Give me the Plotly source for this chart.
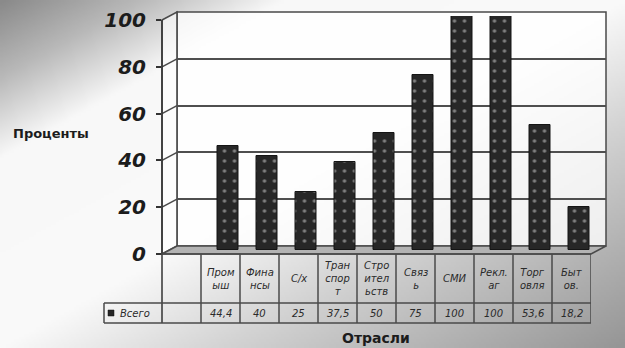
import base64
import struct
import zlib

import numpy as np
import plotly.graph_objects as go

# ---- data -------------------------------------------------------------
categories = ["Пром<br>ыш", "Фина<br>нсы", "С/х", "Тран<br>спор<br>т",
              "Стро<br>ител<br>ьств", "Связ<br>ь", "СМИ", "Рекл.<br>аг",
              "Торг<br>овля", "Быт<br>ов."]
values = [44.4, 40, 25, 37.5, 50, 75, 100, 100, 53.6, 18.2]
series_name = "Всего"
y_ticks = [0, 20, 40, 60, 80, 100]
y_title = "Проценты"
x_title = "Отрасли"

# ---- geometry (pixels) -------------------------------------------------
W, H = 625, 348
FRONT_X0, FRONT_X1 = 162, 591           # front axis / data table columns
DX, DY = 15, 8                          # depth offset of the back wall
L, R, T, B = 104, FRONT_X1 + DX, 12, 323  # plot area edges
HEAD_Y0, HEAD_Y1, ROW_Y1 = 254, 303, 323
FRONT_TOP = 20


def px(x):
    return (x - L) / (R - L)


def py(y):
    return (B - y) / (B - T)


def path(points):
    return "M " + " L ".join(f"{px(x):.5f},{py(y):.5f}" for x, y in points) + " Z"


n_cols = len(categories) + 1            # first table column is empty
col_range = [-0.5, n_cols - 0.5]

# ---- soft diagonal background -----------------------------------------
gw, gh = 250, 140
gx, gy = np.meshgrid(np.linspace(0, 1, gw), np.linspace(0, 1, gh))
s = gx + gy
gray = np.interp(s, [0.0, 0.22, 0.45, 1.0, 1.35, 2.0], [138, 185, 248, 250, 212, 150])
img = gray.clip(0, 255).astype(np.uint8)


def png_bytes(a):
    h, w = a.shape
    raw = b"".join(b"\x00" + a[i].tobytes() for i in range(h))

    def chunk(tag, data):
        c = struct.pack(">I", len(data)) + tag + data
        return c + struct.pack(">I", zlib.crc32(tag + data) & 0xFFFFFFFF)

    return (b"\x89PNG\r\n\x1a\n"
            + chunk(b"IHDR", struct.pack(">IIBBBBB", w, h, 8, 0, 0, 0, 0))
            + chunk(b"IDAT", zlib.compress(raw, 9))
            + chunk(b"IEND", b""))


bg_src = "data:image/png;base64," + base64.b64encode(png_bytes(img)).decode()

fig = go.Figure()

# back wall subplot (gridlines only)
fig.add_trace(go.Scatter(x=[None], y=[None], xaxis="x", yaxis="y", hoverinfo="skip"))
# bars, half-way in depth
fig.add_trace(go.Bar(
    x=list(range(1, n_cols)), y=values, xaxis="x2", yaxis="y2",
    width=0.56, name=series_name,
    marker=dict(color="#272727", line=dict(color="#151515", width=1),
                pattern=dict(shape=".", fgcolor="#d8d8d8", size=10,
                             solidity=0.1, fillmode="overlay")),
    hoverinfo="skip",
))
# front axis subplot (tick labels + data table)
fig.add_trace(go.Scatter(x=[None], y=[None], xaxis="x3", yaxis="y3", hoverinfo="skip"))

hidden_x = dict(range=col_range, showgrid=False, zeroline=False, automargin=False,
                showticklabels=False, ticks="", fixedrange=True)

fig.update_layout(
    width=W, height=H,
    margin=dict(l=L, r=W - R, t=T, b=H - B, pad=0, autoexpand=False),
    paper_bgcolor="white", plot_bgcolor="rgba(0,0,0,0)",
    showlegend=False,
    bargap=0,
    xaxis=dict(domain=[px(FRONT_X0 + DX), px(FRONT_X1 + DX)], anchor="y", **hidden_x),
    yaxis=dict(domain=[py(HEAD_Y0 - DY), py(FRONT_TOP - DY)], anchor="x",
               range=[0, 100], tickvals=y_ticks, showgrid=True, automargin=False,
               gridcolor="#4f4f4f", gridwidth=1.5, zeroline=False,
               showticklabels=False, ticks=""),
    xaxis2=dict(domain=[px(FRONT_X0 + DX / 2), px(FRONT_X1 + DX / 2)], anchor="y2", **hidden_x),
    yaxis2=dict(domain=[py(HEAD_Y0 - DY / 2), py(FRONT_TOP - DY / 2)], anchor="x2",
                range=[0, 100], showgrid=False, zeroline=False, automargin=False,
                showticklabels=False, ticks=""),
    xaxis3=dict(domain=[px(FRONT_X0), px(FRONT_X1)], anchor="y3", **hidden_x),
    yaxis3=dict(domain=[py(HEAD_Y0), py(FRONT_TOP)], anchor="x3", automargin=False,
                range=[0, 100], tickvals=y_ticks, showgrid=False, zeroline=False,
                ticks="outside", ticklen=5, tickcolor="#333", tickwidth=1.5,
                ticklabelstandoff=6,
                tickfont=dict(family="DejaVu Sans", size=20, color="#1c1c1c",
                              weight="bold", style="italic")),
    images=[dict(source=bg_src, xref="paper", yref="paper",
                 x=px(0), y=py(0), sizex=W / (R - L), sizey=H / (B - T),
                 xanchor="left", yanchor="top", sizing="stretch", layer="below")],
)

shapes = []
line_c = "#4a4a4a"
# walls and floor
shapes.append(dict(type="path", xref="paper", yref="paper", layer="below",
                   path=path([(FRONT_X0 + DX, T), (R, T), (R, HEAD_Y0 - DY), (FRONT_X0 + DX, HEAD_Y0 - DY)]),
                   fillcolor="rgba(255,255,255,0.78)", line=dict(color=line_c, width=1.5)))
shapes.append(dict(type="path", xref="paper", yref="paper", layer="below",
                   path=path([(FRONT_X0, FRONT_TOP), (FRONT_X0 + DX, T),
                              (FRONT_X0 + DX, HEAD_Y0 - DY), (FRONT_X0, HEAD_Y0)]),
                   fillcolor="rgba(255,255,255,0.6)", line=dict(color=line_c, width=1.5)))
shapes.append(dict(type="path", xref="paper", yref="paper", layer="below",
                   path=path([(FRONT_X0, HEAD_Y0), (FRONT_X0 + DX, HEAD_Y0 - DY),
                              (R, HEAD_Y0 - DY), (FRONT_X1, HEAD_Y0)]),
                   fillcolor="#b3b3b3", line=dict(color=line_c, width=1.5)))
# side-wall grid connectors
for v in y_ticks[1:-1]:
    yf = HEAD_Y0 - (HEAD_Y0 - FRONT_TOP) * v / 100
    shapes.append(dict(type="line", xref="paper", yref="paper",
                       x0=px(FRONT_X0), y0=py(yf), x1=px(FRONT_X0 + DX), y1=py(yf - DY),
                       line=dict(color=line_c, width=1.5)))
# front axis line running down through the table
shapes.append(dict(type="line", xref="paper", yref="paper",
                   x0=px(FRONT_X0), y0=py(FRONT_TOP), x1=px(FRONT_X0), y1=py(ROW_Y1),
                   line=dict(color="#333", width=1.5)))

# data table grid
for k in range(1, n_cols + 1):
    shapes.append(dict(type="line", xref="x3", yref="paper",
                       x0=k - 0.5, x1=k - 0.5, y0=py(HEAD_Y0), y1=py(ROW_Y1),
                       line=dict(color=line_c, width=1.5)))
shapes.append(dict(type="line", xref="paper", yref="paper",
                   x0=px(L), x1=px(L), y0=py(HEAD_Y1), y1=py(ROW_Y1),
                   line=dict(color=line_c, width=1.5)))
for yy, x_start in [(HEAD_Y0, FRONT_X0), (HEAD_Y1, L), (ROW_Y1, L)]:
    shapes.append(dict(type="line", xref="paper", yref="paper",
                       x0=px(x_start), x1=px(FRONT_X1), y0=py(yy), y1=py(yy),
                       line=dict(color=line_c, width=1.5)))
# legend key square
shapes.append(dict(type="rect", xref="paper", yref="paper",
                   x0=px(108), x1=px(114), y0=py(316), y1=py(310),
                   fillcolor="#262626", line=dict(color="#111", width=0.5)))

annotations = []
cell_font = dict(family="DejaVu Sans", size=10, color="#2a2a2a", style="italic")
for i, (cat, v) in enumerate(zip(categories, values), start=1):
    annotations.append(dict(text=cat, xref="x3", yref="paper", x=i,
                            y=py((HEAD_Y0 + HEAD_Y1) / 2), showarrow=False,
                            font=cell_font, xanchor="center", yanchor="middle"))
    annotations.append(dict(text=f"{v:g}".replace(".", ","), xref="x3", yref="paper",
                            x=i, y=py((HEAD_Y1 + ROW_Y1) / 2), showarrow=False,
                            font=cell_font, xanchor="center", yanchor="middle"))
annotations.append(dict(text=series_name, xref="paper", yref="paper", x=px(118),
                        y=py((HEAD_Y1 + ROW_Y1) / 2), showarrow=False,
                        font=cell_font, xanchor="left", yanchor="middle"))
annotations.append(dict(text=y_title, xref="paper", yref="paper", x=px(51), y=py(133),
                        showarrow=False, xanchor="center", yanchor="middle",
                        font=dict(family="DejaVu Sans", size=13, color="#1c1c1c", weight="bold")))
annotations.append(dict(text=x_title, xref="paper", yref="paper", x=px(376), y=py(338),
                        showarrow=False, xanchor="center", yanchor="middle",
                        font=dict(family="DejaVu Sans", size=14, color="#1c1c1c", weight="bold")))

fig.update_layout(shapes=shapes, annotations=annotations)
fig.write_html("out.html")
